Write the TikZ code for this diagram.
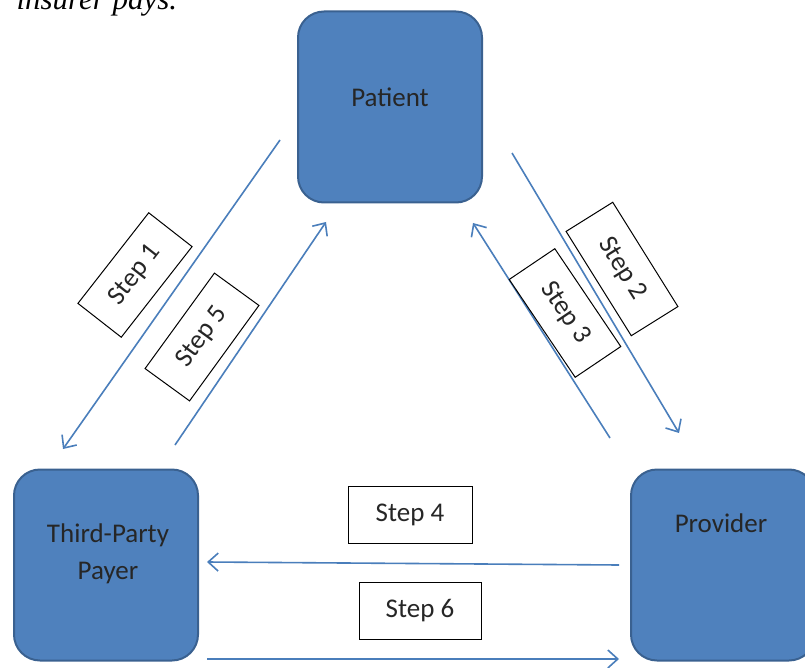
\documentclass[tikz,border=0pt]{standalone}
\usepackage{fontspec}
\setmainfont{Carlito}
\newfontfamily\captionfont{Liberation Serif}
\usetikzlibrary{arrows.meta}
\definecolor{boxblue}{HTML}{4F81BD}
\definecolor{boxedge}{HTML}{3A6190}
\definecolor{flowblue}{HTML}{4A7EBB}
\tikzset{
  party/.style={draw=boxedge, fill=boxblue, line width=2pt, rounded corners=26pt,
    minimum width=184pt, minimum height=191pt, inner sep=0pt},
  partytext/.style={font=\fontsize{27}{37}\selectfont, align=center, text=black!85},
  stepbox/.style={draw=black, fill=white, line width=1pt, minimum width=120pt,
    minimum height=55pt, inner sep=0pt, font=\fontsize{27}{30}\selectfont, text=black!85},
  flow/.style={draw=flowblue, line width=1.6pt, -{Straight Barb[length=10pt,width=18pt]}}
}
\begin{document}
\begin{tikzpicture}[x=1pt,y=-1pt] %1
            \clip (0,0) rectangle (805,668);
            \useasboundingbox (0,0) rectangle (805,668);

            \node[anchor=base west, font=\captionfont\itshape\fontsize{31}{34}\selectfont] (caption) at (13,10) {insurer pays.};

            % the three parties
            \node[party] (patient) at (390,107) {};
            \node[party] (payer) at (106,565) {};
            \node[party] (provider) at (723,565) {};
            \node[partytext] (patientlbl) at (390,97) {Patient};
            \node[partytext] (payerlbl) at (108,554) {Third-Party\\Payer};
            \node[partytext] (providerlbl) at (721,523) {Provider};

            % arrow ends
            \coordinate (s1a) at (280,140);  \coordinate (s1b) at (63,449);
            \coordinate (s5a) at (175,445);  \coordinate (s5b) at (326,222);
            \coordinate (s2a) at (512,153);  \coordinate (s2b) at (679,433);
            \coordinate (s3a) at (610,438);  \coordinate (s3b) at (473,223);
            \coordinate (s4a) at (619,565);  \coordinate (s4b) at (207,562);
            \coordinate (s6a) at (207,659);  \coordinate (s6b) at (619,659);

            \draw[flow] (s1a) -- (s1b);
            \draw[flow] (s5a) -- (s5b);
            \draw[flow] (s2a) -- (s2b);
            \draw[flow] (s3a) -- (s3b);
            \draw[flow] (s4a) -- (s4b);
            \draw[flow] (s6a) -- (s6b);

            % step labels
            \node[stepbox, rotate=52, minimum width=115pt] (step1) at (135,275) {Step 1};
            \node[stepbox, rotate=54, minimum width=118pt] (step5) at (202,337) {Step 5};
            \node[stepbox, rotate=-58, minimum width=123pt] (step2) at (622,269) {Step 2};
            \node[stepbox, rotate=-56, minimum width=118pt] (step3) at (565,313) {Step 3};
            \node[stepbox, minimum width=124pt, minimum height=57pt] (step4) at (410,515) {Step 4};
            \node[stepbox, minimum width=122pt, minimum height=57pt] (step6) at (420,611) {Step 6};
        \end{tikzpicture}
\end{document}
